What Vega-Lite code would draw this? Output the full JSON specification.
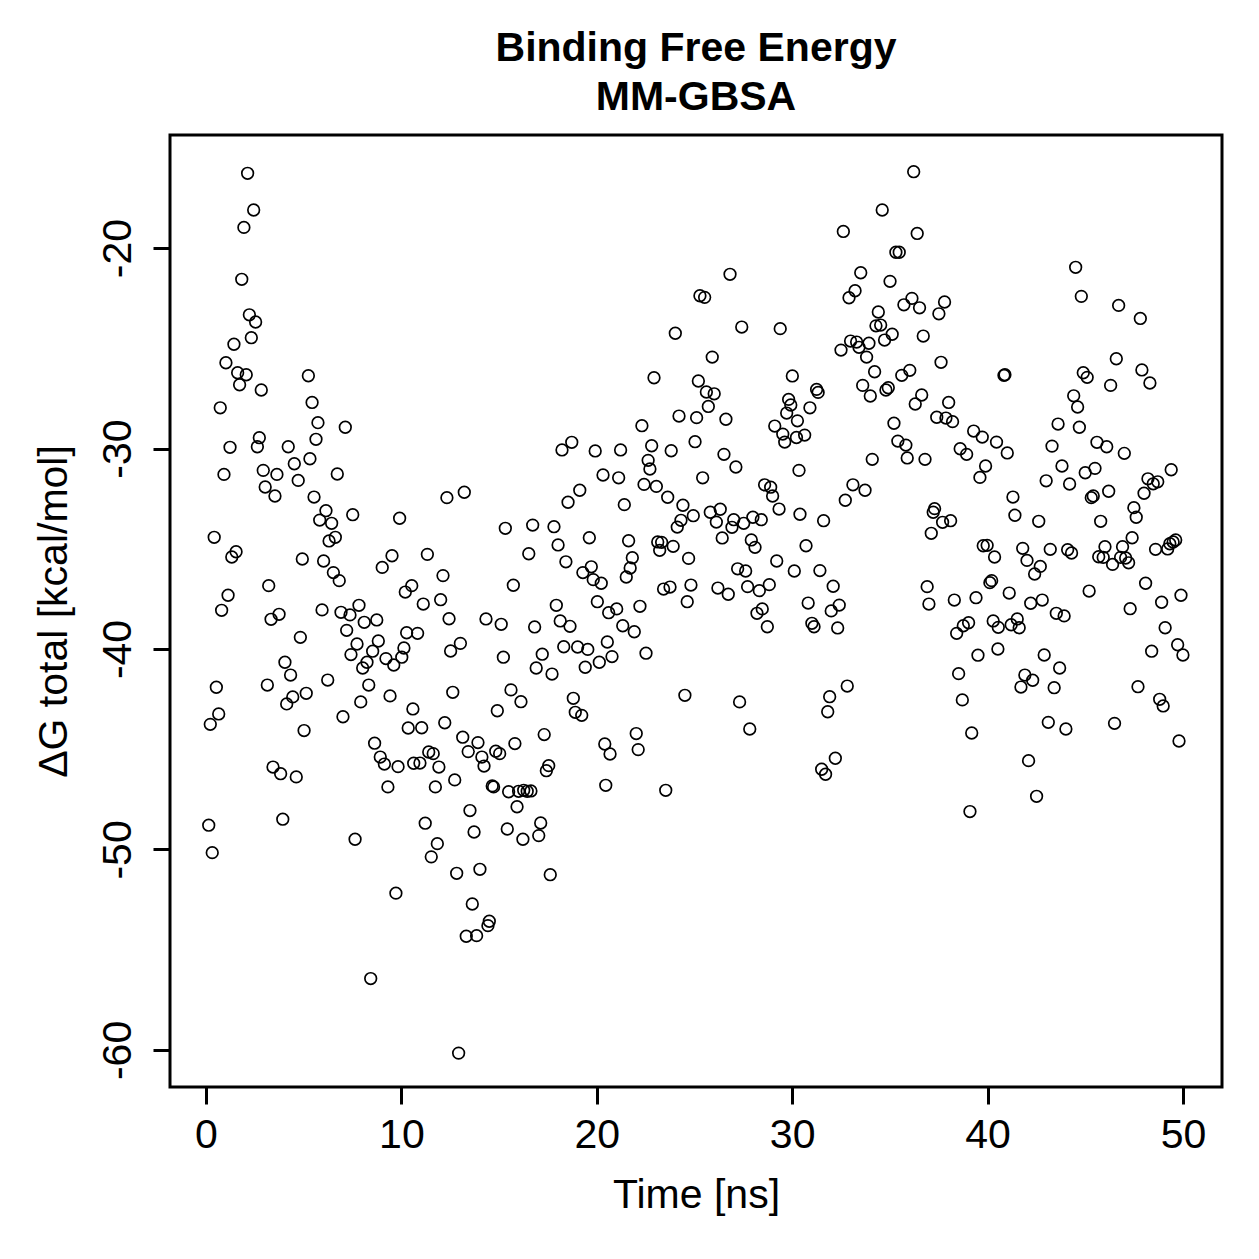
{
  "$schema": "https://vega.github.io/schema/vega-lite/v6.json",
  "width": 1052,
  "height": 952,
  "autosize": {"type": "none"},
  "padding": {"left": 170, "top": 135, "right": 37, "bottom": 172},
  "background": "white",
  "title": {
    "text": ["Binding Free Energy", "MM-GBSA"],
    "font": "Liberation Sans",
    "fontSize": 41,
    "fontWeight": "bold",
    "color": "black",
    "lineHeight": 49,
    "anchor": "middle",
    "offset": 16
  },
  "data": {
    "values": [
      {"t":2.13,"g":-16.27},{"t":2.44,"g":-18.10},{"t":1.94,"g":-18.97},{"t":1.83,"g":-21.56},{"t":2.22,"g":-23.33},
      {"t":2.54,"g":-23.69},{"t":2.32,"g":-24.47},{"t":1.43,"g":-24.80},{"t":1.02,"g":-25.72},{"t":1.62,"g":-26.22},
      {"t":2.06,"g":-26.32},{"t":1.72,"g":-26.82},{"t":2.83,"g":-27.08},{"t":5.24,"g":-26.37},{"t":0.73,"g":-27.97},
      {"t":5.43,"g":-27.70},{"t":5.73,"g":-28.71},{"t":7.13,"g":-28.94},{"t":5.63,"g":-29.54},{"t":2.73,"g":-29.46},
      {"t":2.63,"g":-29.91},{"t":1.23,"g":-29.94},{"t":4.21,"g":-29.91},{"t":4.52,"g":-30.76},{"t":5.32,"g":-30.51},
      {"t":0.92,"g":-31.29},{"t":2.93,"g":-31.09},{"t":3.63,"g":-31.29},{"t":6.72,"g":-31.27},{"t":4.72,"g":-31.59},
      {"t":3.03,"g":-31.92},{"t":3.53,"g":-32.37},{"t":5.53,"g":-32.42},{"t":6.14,"g":-33.10},{"t":5.82,"g":-33.57},
      {"t":6.43,"g":-33.73},{"t":7.51,"g":-33.30},{"t":9.91,"g":-33.48},{"t":6.62,"g":-34.43},{"t":6.30,"g":-34.61},
      {"t":0.42,"g":-34.43},{"t":1.54,"g":-35.15},{"t":1.32,"g":-35.41},{"t":4.93,"g":-35.51},{"t":6.02,"g":-35.61},
      {"t":6.52,"g":-36.19},{"t":6.82,"g":-36.59},{"t":9.52,"g":-35.35},{"t":9.02,"g":-35.93},{"t":3.21,"g":-36.84},
      {"t":1.13,"g":-37.32},{"t":0.80,"g":-38.07},{"t":10.20,"g":-37.16},{"t":10.53,"g":-36.84},{"t":5.94,"g":-38.05},
      {"t":7.83,"g":-37.82},{"t":6.91,"g":-38.17},{"t":3.33,"g":-38.52},{"t":3.74,"g":-38.27},{"t":7.37,"g":-38.30},
      {"t":8.10,"g":-38.67},{"t":8.74,"g":-38.55},{"t":4.83,"g":-39.42},{"t":7.20,"g":-39.07},{"t":7.73,"g":-39.75},
      {"t":8.82,"g":-39.60},{"t":8.53,"g":-40.11},{"t":7.42,"g":-40.28},{"t":9.21,"g":-40.48},{"t":9.61,"g":-40.80},
      {"t":10.02,"g":-40.41},{"t":10.13,"g":-39.95},{"t":10.27,"g":-39.19},{"t":8.24,"g":-40.66},{"t":8.02,"g":-40.95},
      {"t":4.04,"g":-40.66},{"t":4.33,"g":-41.30},{"t":3.14,"g":-41.80},{"t":0.53,"g":-41.91},{"t":6.23,"g":-41.55},
      {"t":8.33,"g":-41.80},{"t":9.42,"g":-42.34},{"t":4.44,"g":-42.39},{"t":4.13,"g":-42.74},{"t":5.13,"g":-42.21},
      {"t":7.92,"g":-42.64},{"t":0.65,"g":-43.24},{"t":0.22,"g":-43.76},{"t":7.01,"g":-43.38},{"t":5.02,"g":-44.07},
      {"t":10.35,"g":-43.94},{"t":10.59,"g":-42.99},{"t":8.63,"g":-44.70},{"t":8.92,"g":-45.39},{"t":9.13,"g":-45.74},
      {"t":9.83,"g":-45.87},{"t":10.63,"g":-45.70},{"t":9.31,"g":-46.88},{"t":3.43,"g":-45.89},{"t":3.82,"g":-46.22},
      {"t":4.62,"g":-46.38},{"t":0.14,"g":-48.79},{"t":0.32,"g":-50.16},{"t":3.93,"g":-48.49},{"t":7.63,"g":-49.49},
      {"t":9.72,"g":-52.18},{"t":8.43,"g":-56.44},
      {"t":18.72,"g":-29.69},{"t":18.22,"g":-30.07},{"t":19.92,"g":-30.12},{"t":20.32,"g":-31.32},{"t":19.13,"g":-32.08},
      {"t":18.53,"g":-32.68},{"t":12.33,"g":-32.45},{"t":13.22,"g":-32.18},{"t":15.32,"g":-33.98},{"t":16.72,"g":-33.82},
      {"t":17.81,"g":-33.90},{"t":19.62,"g":-34.45},{"t":18.02,"g":-34.81},{"t":16.52,"g":-35.25},{"t":11.33,"g":-35.28},
      {"t":18.42,"g":-35.65},{"t":19.72,"g":-35.90},{"t":19.29,"g":-36.19},{"t":19.82,"g":-36.54},{"t":20.23,"g":-36.72},
      {"t":12.13,"g":-36.34},{"t":15.73,"g":-36.82},{"t":12.01,"g":-37.54},{"t":11.12,"g":-37.76},{"t":20.03,"g":-37.64},
      {"t":17.93,"g":-37.82},{"t":20.61,"g":-38.19},{"t":12.44,"g":-38.49},{"t":14.33,"g":-38.50},{"t":15.11,"g":-38.77},
      {"t":16.82,"g":-38.90},{"t":18.13,"g":-38.60},{"t":18.63,"g":-38.87},{"t":10.83,"g":-39.22},{"t":13.02,"g":-39.72},
      {"t":12.52,"g":-40.10},{"t":15.22,"g":-40.41},{"t":17.21,"g":-40.26},{"t":16.90,"g":-40.95},{"t":17.71,"g":-41.25},
      {"t":18.31,"g":-39.89},{"t":19.02,"g":-39.90},{"t":19.54,"g":-40.02},{"t":19.41,"g":-40.91},{"t":20.13,"g":-40.66},
      {"t":20.54,"g":-39.65},{"t":20.78,"g":-40.38},{"t":12.63,"g":-42.16},{"t":15.61,"g":-42.04},{"t":16.12,"g":-42.63},
      {"t":18.80,"g":-42.46},{"t":18.90,"g":-43.16},{"t":19.23,"g":-43.31},{"t":14.91,"g":-43.08},{"t":12.22,"g":-43.68},
      {"t":11.04,"g":-43.93},{"t":13.14,"g":-44.40},{"t":13.92,"g":-44.67},{"t":13.42,"g":-45.12},{"t":15.81,"g":-44.72},
      {"t":17.31,"g":-44.27},{"t":20.41,"g":-44.74},{"t":20.68,"g":-45.24},{"t":11.40,"g":-45.14},{"t":11.63,"g":-45.22},
      {"t":14.83,"g":-45.10},{"t":15.03,"g":-45.22},{"t":14.12,"g":-45.39},{"t":14.23,"g":-45.84},{"t":10.95,"g":-45.69},
      {"t":11.92,"g":-45.89},{"t":17.54,"g":-45.82},{"t":17.42,"g":-46.07},{"t":11.74,"g":-46.88},{"t":12.73,"g":-46.53},
      {"t":14.65,"g":-46.83},{"t":14.72,"g":-46.88},{"t":15.49,"g":-47.12},{"t":16.00,"g":-47.10},{"t":16.26,"g":-47.05},
      {"t":16.44,"g":-47.10},{"t":16.63,"g":-47.08},{"t":20.46,"g":-46.80},{"t":15.92,"g":-47.87},{"t":13.51,"g":-48.06},
      {"t":11.22,"g":-48.69},{"t":13.72,"g":-49.13},{"t":15.42,"g":-48.98},{"t":16.22,"g":-49.49},{"t":17.13,"g":-48.68},
      {"t":17.03,"g":-49.31},{"t":11.84,"g":-49.71},{"t":11.53,"g":-50.37},{"t":12.83,"g":-51.19},{"t":14.02,"g":-50.99},
      {"t":17.62,"g":-51.26},{"t":13.63,"g":-52.72},{"t":14.50,"g":-53.58},{"t":14.43,"g":-53.80},{"t":13.32,"g":-54.33},
      {"t":13.85,"g":-54.30},{"t":12.93,"g":-60.16},
      {"t":26.82,"g":-21.31},{"t":25.28,"g":-22.38},{"t":25.52,"g":-22.46},{"t":24.02,"g":-24.25},{"t":27.42,"g":-23.94},
      {"t":29.39,"g":-24.02},{"t":25.91,"g":-25.44},{"t":22.93,"g":-26.47},{"t":30.01,"g":-26.38},{"t":25.20,"g":-26.63},
      {"t":25.61,"g":-27.18},{"t":26.01,"g":-27.27},{"t":25.71,"g":-27.90},{"t":29.82,"g":-27.55},{"t":29.93,"g":-27.83},
      {"t":29.72,"g":-28.23},{"t":30.27,"g":-28.62},{"t":24.21,"g":-28.38},{"t":25.11,"g":-28.46},{"t":26.61,"g":-28.54},
      {"t":22.31,"g":-28.86},{"t":29.11,"g":-28.88},{"t":29.52,"g":-29.28},{"t":29.62,"g":-29.68},{"t":30.22,"g":-29.45},
      {"t":25.03,"g":-29.66},{"t":21.22,"g":-30.07},{"t":22.81,"g":-29.86},{"t":23.81,"g":-30.11},{"t":22.63,"g":-30.59},
      {"t":22.72,"g":-31.02},{"t":26.51,"g":-30.29},{"t":27.12,"g":-30.92},{"t":21.12,"g":-31.46},{"t":25.42,"g":-31.46},
      {"t":22.42,"g":-31.79},{"t":23.05,"g":-31.89},{"t":23.63,"g":-32.43},{"t":21.41,"g":-32.80},{"t":24.41,"g":-32.83},
      {"t":24.94,"g":-33.35},{"t":24.31,"g":-33.58},{"t":24.12,"g":-33.92},{"t":28.59,"g":-31.81},{"t":28.90,"g":-31.93},
      {"t":29.00,"g":-32.37},{"t":29.33,"g":-33.02},{"t":30.35,"g":-31.09},{"t":30.40,"g":-33.28},{"t":25.81,"g":-33.18},
      {"t":26.32,"g":-33.03},{"t":26.12,"g":-33.67},{"t":27.01,"g":-33.55},{"t":26.92,"g":-33.93},{"t":27.52,"g":-33.73},
      {"t":27.99,"g":-33.43},{"t":28.42,"g":-33.55},{"t":26.42,"g":-34.46},{"t":27.91,"g":-34.56},{"t":28.10,"g":-34.93},
      {"t":21.63,"g":-34.60},{"t":23.12,"g":-34.66},{"t":23.32,"g":-34.68},{"t":23.22,"g":-35.08},{"t":23.91,"g":-34.88},
      {"t":21.82,"g":-35.45},{"t":21.71,"g":-35.96},{"t":21.51,"g":-36.41},{"t":24.70,"g":-35.48},{"t":29.21,"g":-35.61},
      {"t":30.11,"g":-36.11},{"t":27.21,"g":-36.00},{"t":27.62,"g":-36.11},{"t":23.42,"g":-37.01},{"t":23.75,"g":-36.91},
      {"t":24.82,"g":-36.81},{"t":26.20,"g":-36.96},{"t":26.73,"g":-37.27},{"t":27.72,"g":-36.89},{"t":28.32,"g":-37.09},
      {"t":28.83,"g":-36.79},{"t":24.63,"g":-37.64},{"t":22.21,"g":-37.87},{"t":21.02,"g":-38.00},{"t":28.47,"g":-38.00},
      {"t":28.20,"g":-38.22},{"t":21.33,"g":-38.84},{"t":21.92,"g":-39.14},{"t":22.52,"g":-40.21},{"t":28.73,"g":-38.89},
      {"t":24.51,"g":-42.31},{"t":27.31,"g":-42.64},{"t":27.83,"g":-43.99},{"t":22.02,"g":-44.22},{"t":22.12,"g":-45.02},
      {"t":23.53,"g":-47.05},
      {"t":36.22,"g":-16.19},{"t":34.61,"g":-18.10},{"t":32.62,"g":-19.17},{"t":36.40,"g":-19.27},{"t":35.31,"g":-20.21},
      {"t":35.48,"g":-20.21},{"t":33.51,"g":-21.23},{"t":35.01,"g":-21.66},{"t":33.22,"g":-22.13},{"t":32.91,"g":-22.48},
      {"t":35.72,"g":-22.83},{"t":36.13,"g":-22.51},{"t":36.52,"g":-22.98},{"t":37.80,"g":-22.69},{"t":37.51,"g":-23.28},
      {"t":34.41,"g":-23.19},{"t":34.29,"g":-23.88},{"t":34.53,"g":-23.84},{"t":35.12,"g":-24.30},{"t":34.73,"g":-24.59},
      {"t":36.71,"g":-24.39},{"t":32.99,"g":-24.64},{"t":33.30,"g":-24.69},{"t":33.42,"g":-24.95},{"t":33.93,"g":-24.75},
      {"t":32.50,"g":-25.09},{"t":33.81,"g":-25.44},{"t":37.62,"g":-25.70},{"t":34.22,"g":-26.17},{"t":35.61,"g":-26.35},
      {"t":36.02,"g":-26.10},{"t":33.61,"g":-26.85},{"t":34.00,"g":-27.38},{"t":34.80,"g":-27.08},{"t":34.92,"g":-26.97},
      {"t":36.63,"g":-27.33},{"t":36.30,"g":-27.78},{"t":31.25,"g":-27.05},{"t":31.33,"g":-27.20},{"t":30.91,"g":-27.97},
      {"t":30.64,"g":-29.33},{"t":38.01,"g":-27.70},{"t":37.40,"g":-28.44},{"t":37.87,"g":-28.48},{"t":38.21,"g":-28.66},
      {"t":35.21,"g":-28.74},{"t":35.41,"g":-29.63},{"t":35.82,"g":-29.83},{"t":35.89,"g":-30.47},{"t":36.80,"g":-30.54},
      {"t":34.10,"g":-30.54},{"t":39.29,"g":-29.13},{"t":39.73,"g":-29.43},{"t":40.46,"g":-29.68},{"t":38.60,"g":-30.01},
      {"t":38.93,"g":-30.29},{"t":39.90,"g":-30.87},{"t":39.61,"g":-31.44},{"t":33.11,"g":-31.81},{"t":33.73,"g":-32.08},
      {"t":32.72,"g":-32.58},{"t":31.61,"g":-33.60},{"t":37.29,"g":-33.00},{"t":37.22,"g":-33.18},{"t":37.70,"g":-33.68},
      {"t":38.11,"g":-33.60},{"t":37.12,"g":-34.23},{"t":30.71,"g":-34.85},{"t":39.78,"g":-34.85},{"t":39.98,"g":-34.83},
      {"t":40.36,"g":-35.41},{"t":31.42,"g":-36.09},{"t":32.10,"g":-36.87},{"t":30.82,"g":-37.71},{"t":32.00,"g":-38.10},
      {"t":32.41,"g":-37.81},{"t":36.91,"g":-36.89},{"t":37.00,"g":-37.76},{"t":38.30,"g":-37.56},{"t":39.41,"g":-37.44},
      {"t":40.12,"g":-36.69},{"t":40.21,"g":-36.59},{"t":31.01,"g":-38.72},{"t":31.12,"g":-38.89},{"t":32.33,"g":-38.95},
      {"t":38.42,"g":-39.22},{"t":38.76,"g":-38.84},{"t":39.03,"g":-38.69},{"t":40.29,"g":-38.60},{"t":40.55,"g":-38.92},
      {"t":40.53,"g":-40.00},{"t":39.51,"g":-40.31},{"t":38.52,"g":-41.23},{"t":32.82,"g":-41.85},{"t":31.92,"g":-42.38},
      {"t":31.82,"g":-43.13},{"t":38.71,"g":-42.54},{"t":39.19,"g":-44.19},{"t":32.21,"g":-45.45},{"t":31.51,"g":-46.00},
      {"t":31.71,"g":-46.25},{"t":39.10,"g":-48.11},
      {"t":44.51,"g":-20.96},{"t":44.80,"g":-22.41},{"t":46.71,"g":-22.86},{"t":47.82,"g":-23.51},{"t":46.59,"g":-25.52},
      {"t":47.90,"g":-26.08},{"t":48.31,"g":-26.73},{"t":40.84,"g":-26.35},{"t":40.89,"g":-26.32},{"t":44.90,"g":-26.22},
      {"t":45.10,"g":-26.45},{"t":46.30,"g":-26.85},{"t":44.41,"g":-27.37},{"t":44.61,"g":-27.93},{"t":43.61,"g":-28.78},
      {"t":44.70,"g":-28.94},{"t":41.01,"g":-30.22},{"t":43.30,"g":-29.88},{"t":45.60,"g":-29.69},{"t":46.10,"g":-29.91},
      {"t":47.00,"g":-30.24},{"t":43.81,"g":-30.87},{"t":45.00,"g":-31.21},{"t":45.50,"g":-30.99},{"t":43.00,"g":-31.61},
      {"t":44.20,"g":-31.77},{"t":49.40,"g":-31.06},{"t":48.21,"g":-31.51},{"t":48.48,"g":-31.76},{"t":48.71,"g":-31.66},
      {"t":48.01,"g":-32.23},{"t":46.20,"g":-32.13},{"t":45.31,"g":-32.45},{"t":45.41,"g":-32.37},{"t":41.30,"g":-32.42},
      {"t":41.40,"g":-33.33},{"t":42.62,"g":-33.63},{"t":45.79,"g":-33.63},{"t":47.49,"g":-32.95},{"t":47.61,"g":-33.43},
      {"t":47.40,"g":-34.45},{"t":41.80,"g":-34.98},{"t":42.02,"g":-35.58},{"t":42.70,"g":-35.88},{"t":42.41,"g":-36.26},
      {"t":43.21,"g":-35.03},{"t":44.10,"g":-35.05},{"t":44.30,"g":-35.21},{"t":46.01,"g":-34.90},{"t":45.69,"g":-35.40},
      {"t":45.92,"g":-35.43},{"t":46.40,"g":-35.78},{"t":46.91,"g":-34.90},{"t":46.81,"g":-35.43},{"t":47.07,"g":-35.46},
      {"t":47.22,"g":-35.70},{"t":48.60,"g":-35.03},{"t":49.22,"g":-35.01},{"t":49.33,"g":-34.75},{"t":49.63,"g":-34.56},
      {"t":49.50,"g":-34.66},{"t":41.11,"g":-37.21},{"t":42.21,"g":-37.72},{"t":42.80,"g":-37.56},{"t":45.20,"g":-37.11},
      {"t":48.09,"g":-36.72},{"t":48.91,"g":-37.67},{"t":49.90,"g":-37.32},{"t":47.30,"g":-37.99},{"t":43.52,"g":-38.22},
      {"t":43.92,"g":-38.35},{"t":41.21,"g":-38.79},{"t":41.52,"g":-38.50},{"t":41.62,"g":-38.94},{"t":42.90,"g":-40.30},
      {"t":43.69,"g":-40.95},{"t":41.91,"g":-41.30},{"t":42.31,"g":-41.56},{"t":41.71,"g":-41.90},{"t":43.41,"g":-41.93},
      {"t":49.09,"g":-38.94},{"t":48.40,"g":-40.11},{"t":49.73,"g":-39.79},{"t":50.00,"g":-40.30},{"t":47.70,"g":-41.88},
      {"t":48.81,"g":-42.51},{"t":48.99,"g":-42.84},{"t":43.11,"g":-43.66},{"t":44.01,"g":-43.99},{"t":46.50,"g":-43.71},
      {"t":49.80,"g":-44.59},{"t":42.10,"g":-45.57},{"t":42.51,"g":-47.35}
    ]
  },
  "mark": {
    "type": "point",
    "shape": "circle",
    "filled": false,
    "stroke": "black",
    "strokeWidth": 1.7,
    "size": 135,
    "opacity": 1
  },
  "encoding": {
    "x": {
      "field": "t",
      "type": "quantitative",
      "scale": {"domain": [-1.842, 52.0], "nice": false, "zero": false},
      "axis": {
        "values": [0, 10, 20, 30, 40, 50],
        "title": "Time [ns]",
        "labelPadding": 11,
        "titlePadding": 20
      }
    },
    "y": {
      "field": "g",
      "type": "quantitative",
      "scale": {"domain": [-61.85, -14.36], "nice": false, "zero": false},
      "axis": {
        "values": [-60, -50, -40, -30, -20],
        "labelExpr": "datum.value + ''",
        "labelAngle": -90,
        "labelAlign": "center",
        "labelBaseline": "alphabetic",
        "labelPadding": 23,
        "title": "ΔG total [kcal/mol]",
        "titlePadding": 22
      }
    }
  },
  "config": {
    "view": {"stroke": "black", "strokeWidth": 3},
    "axis": {
      "domain": false,
      "grid": false,
      "ticks": true,
      "tickColor": "black",
      "tickWidth": 3,
      "tickSize": 17,
      "labelFont": "Liberation Sans",
      "labelFontSize": 41,
      "labelColor": "black",
      "labelOverlap": false,
      "titleFont": "Liberation Sans",
      "titleFontSize": 41,
      "titleFontWeight": "normal",
      "titleColor": "black"
    }
  }
}
